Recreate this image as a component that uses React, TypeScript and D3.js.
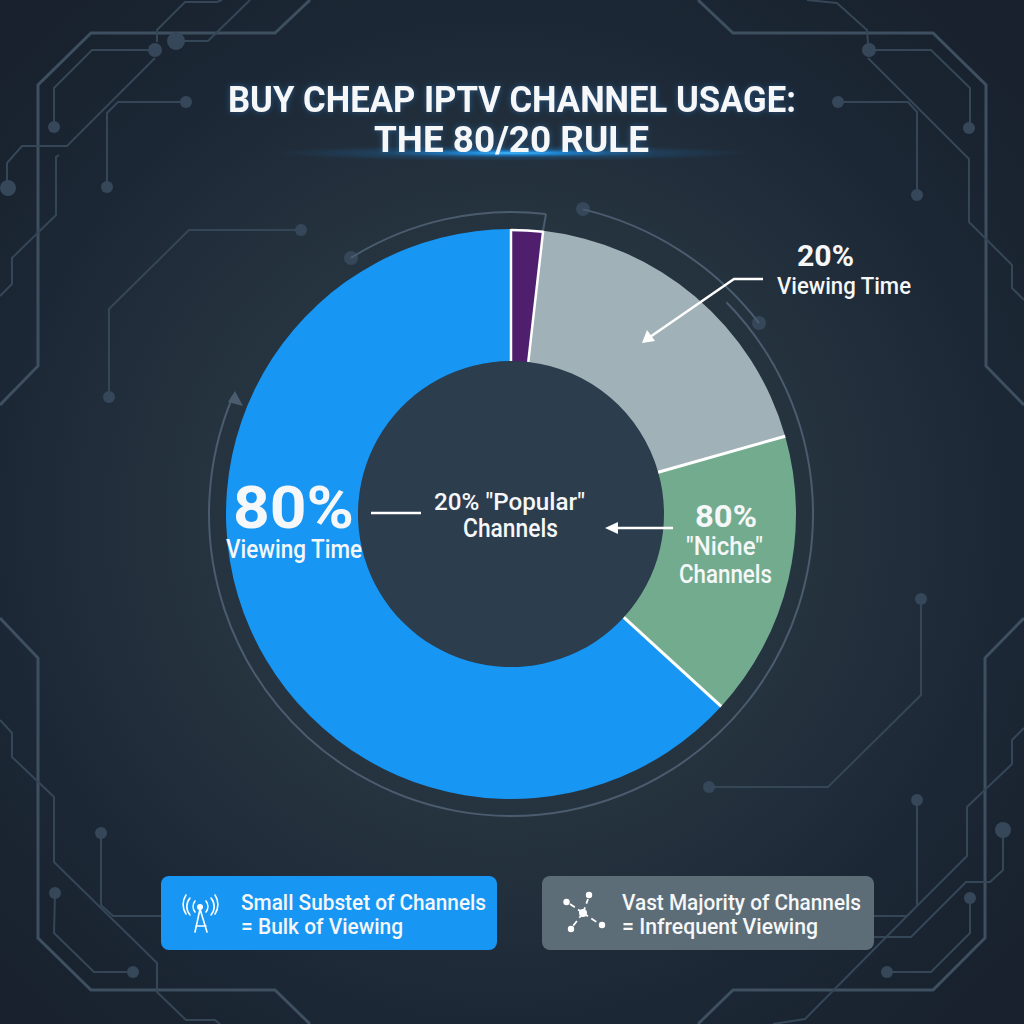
import React from "react";
import * as d3 from "d3";

// ---- chart data ----
const segmentNames = ["Popular sliver", "Viewing share", "Niche", "Bulk"];
const segmentValues = [1.8, 18.8, 16.2, 63.2];
const segmentColors = ["#4f1f6e", "#a0b1b7", "#73ab8f", "#1796f3"];
const titleLines = ["BUY CHEAP IPTV CHANNEL USAGE:", "THE 80/20 RULE"];

// ---- text: [string, x start, x end, baseline, size, weight] ----
type T = [string, number, number, number, number, number];
const labels: T[] = [
  ["20%", 797, 854, 266, 30, 700],
  ["Viewing Time", 777, 911, 294, 24, 500],
  ["80%", 233, 354, 528, 60, 700],
  ["Viewing Time", 226, 362, 558, 25, 500],
  ['20% "Popular"', 434, 585, 510, 24, 500],
  ["Channels", 463, 558, 537, 25, 500],
  ["80%", 695, 757, 527, 31, 700],
  ['"Niche"', 686, 763, 555, 25, 500],
  ["Channels", 679, 772, 583, 25, 500],
  ["Small Substet of Channels", 241, 486, 910, 22, 500],
  ["= Bulk of Viewing", 241, 403, 934, 22, 500],
  ["Vast Majority of Channels", 622, 861, 910, 22, 500],
  ["= Infrequent Viewing", 622, 818, 934, 22, 500],
];

// ---- decorative circuit traces ----
type P = [number, number];
const thickTraces: P[][] = [
  [[310, 0], [275, 33], [91, 33], [38, 85], [38, 366], [0, 405]],
  [[0, 618], [38, 658], [38, 938], [91, 990], [275, 990], [310, 1024]],
  [[698, 0], [733, 33], [933, 33], [986, 85], [986, 366], [1024, 405]],
  [[1024, 618], [985, 658], [985, 938], [933, 990], [733, 990], [698, 1024]],
];
const thinTraces: P[][] = [
  [[155, 50], [92, 50], [54, 88], [54, 127]],
  [[176, 41], [208, 41], [250, 0]],
  [[157, 42], [157, 30], [185, 2], [217, 2], [222, 0]],
  [[155, 58], [67, 146], [22, 146], [7, 163], [7, 188]],
  [[186, 102], [118, 102], [107, 113], [107, 187]],
  [[59, 155], [56, 157], [56, 215], [12, 258], [12, 284], [0, 296]],
  [[301, 230], [189, 230], [109, 309], [109, 397]],
  [[869, 50], [931, 50], [970, 88], [970, 127]],
  [[807, 0], [837, 3], [867, 30], [868, 43]],
  [[868, 58], [969, 159], [969, 222], [1012, 265], [1012, 288], [1024, 300]],
  [[838, 102], [908, 102], [917, 112], [917, 195]],
  [[921, 599], [921, 695], [828, 787], [709, 787]],
  [[917, 800], [917, 905]],
  [[874, 916], [907, 916], [967, 856], [967, 807], [1012, 764], [1012, 740], [1024, 728]],
  [[874, 937], [911, 937], [966, 882], [990, 882], [1003, 870], [1003, 830]],
  [[773, 1024], [805, 1019], [913, 910]],
  [[970, 898], [970, 933], [931, 972], [887, 972]],
  [[0, 720], [12, 733], [12, 757], [54, 797], [54, 862], [157, 963], [157, 992], [186, 1020], [215, 1020], [220, 1024]],
  [[101, 833], [101, 905], [113, 916], [161, 916]],
  [[55, 893], [54, 933], [94, 972], [133, 972]],
];
const traceNodes: [number, number, number][] = [
  [155, 50, 7], [54, 127, 6], [176, 41, 9], [8, 188, 8], [186, 102, 6], [107, 187, 6], [301, 230, 6], [109, 397, 6],
  [351, 258, 7], [869, 50, 7], [969, 128, 6], [838, 102, 6], [917, 195, 6], [583, 209, 7], [759, 323, 7],
  [921, 599, 6], [709, 787, 6], [917, 800, 6], [1003, 830, 8], [970, 898, 6], [887, 972, 6], [101, 833, 6], [55, 893, 6], [133, 972, 6],
];
// ring arcs: [radius, start degrees, end degrees]
const ringArcs: [number, number, number][] = [
  [302, -32, 6.6],
  [302, 45.5, 293],
  [313, 13.3, 52.4],
];

const CX = 511, CY = 514, R = 285, r0 = 153;
const FONT = "Roboto, 'Noto Sans', sans-serif";
const WHITE = "#f5f7f8";
const rad = (d: number) => (d * Math.PI) / 180;

const pathLine = d3.line<P>().x((d) => d[0]).y((d) => d[1]);
const pie = d3.pie<number>().sort(null).value((d) => d);
const arcGen = d3.arc<d3.PieArcDatum<number>>().innerRadius(r0).outerRadius(R);
const slices = pie(segmentValues);

function Txt({ t }: { t: T }) {
  const [s, x0, x1, y, size, w] = t;
  return (
    <text x={x0} y={y} fontFamily={FONT} fontSize={size} fontWeight={w} fill={WHITE}
      textLength={x1 - x0} lengthAdjust="spacingAndGlyphs">{s}</text>
  );
}

export default function App() {
  const sep = (a: number, w = 3) => {
    const p0 = d3.pointRadial(a, r0);
    const p1 = d3.pointRadial(a, R);
    return <line x1={p0[0]} y1={p0[1]} x2={p1[0]} y2={p1[1]} stroke="#fff" strokeWidth={w} />;
  };
  const ringArc = (d: [number, number, number]) =>
    d3.arc()({ innerRadius: d[0], outerRadius: d[0], startAngle: rad(d[1]), endAngle: rad(d[2]) }) as string;
  return (
    <svg width={1024} height={1024} viewBox="0 0 1024 1024" style={{ position: "absolute", left: 0, top: 0, display: "block" }}>
      <defs>
        <radialGradient id="bg" gradientUnits="userSpaceOnUse" cx={500} cy={520} r={680}>
          <stop offset="0" stopColor="#2c3d4e" />
          <stop offset="0.45" stopColor="#25333f" />
          <stop offset="0.75" stopColor="#1c2735" />
          <stop offset="1" stopColor="#18212d" />
        </radialGradient>
        <radialGradient id="under" cx="0.5" cy="0.5" r="0.5">
          <stop offset="0" stopColor="#4cc4ff" stopOpacity="1" />
          <stop offset="0.2" stopColor="#1f93ea" stopOpacity="0.85" />
          <stop offset="0.55" stopColor="#1c6cb0" stopOpacity="0.3" />
          <stop offset="1" stopColor="#1c6cb0" stopOpacity="0" />
        </radialGradient>
        <filter id="glow" x="-10%" y="-40%" width="120%" height="180%">
          <feGaussianBlur in="SourceAlpha" stdDeviation="3" result="b" />
          <feFlood floodColor="#2a8fe8" floodOpacity="0.45" />
          <feComposite in2="b" operator="in" result="g" />
          <feMerge>
            <feMergeNode in="g" />
            <feMergeNode in="SourceGraphic" />
          </feMerge>
        </filter>
      </defs>
      <rect width={1024} height={1024} fill="url(#bg)" />

      {/* circuit traces */}
      <g fill="none" strokeLinejoin="miter">
        {thickTraces.map((d, i) => <path key={i} d={pathLine(d) as string} stroke="#3e4f60" strokeWidth={3} />)}
        {thinTraces.map((d, i) => <path key={i} d={pathLine(d) as string} stroke="#354656" strokeWidth={2} />)}
      </g>
      {traceNodes.map((n, i) => <circle key={i} cx={n[0]} cy={n[1]} r={n[2]} fill="#36475a" />)}

      {/* title */}
      <ellipse cx={512} cy={153} rx={240} ry={8} fill="url(#under)" />
      <g filter="url(#glow)">
        <text x={228} y={112} fontFamily={FONT} fontSize={37} fontWeight={700} fill={WHITE} textLength={568} lengthAdjust="spacingAndGlyphs">{titleLines[0]}</text>
        <text x={374} y={152} fontFamily={FONT} fontSize={37} fontWeight={700} fill={WHITE} textLength={275} lengthAdjust="spacingAndGlyphs">{titleLines[1]}</text>
      </g>

      <g transform={`translate(${CX},${CY})`}>
        {/* ring */}
        <g fill="none" stroke="#4a5c6d" strokeWidth={2}>
          {ringArcs.map((d, i) => <path key={i} d={ringArc(d)} />)}
          <line x1={35} y1={-300} x2={32} y2={-283} />
        </g>
        <circle r={r0} fill="#2c3d4e" />
        {slices.map((s, i) => (
          <path key={segmentNames[i]} d={arcGen(s) as string} fill={segmentColors[i]} />
        ))}
        {/* white border on the sliver: both sides and the outer edge */}
        <path d={d3.arc()({ innerRadius: R - 1, outerRadius: R - 1, startAngle: slices[0].startAngle, endAngle: slices[0].endAngle }) as string}
          fill="none" stroke="#fff" strokeWidth={2.5} />
        {sep(slices[0].endAngle, 2.5)}
        {sep(slices[1].endAngle)}
        {sep(slices[2].endAngle)}
        {sep(0, 2.5)}
        <path d={`M-276,-119 L-283,-108 L-268,-104 Z`} fill="#4a5c6d" transform="translate(0,-4)" />
      </g>

      {/* legend boxes */}
      <rect x={161} y={876} width={336} height={74} rx={8} fill="#1796f3" />
      <rect x={542} y={876} width={332} height={74} rx={8} fill="#5d6d78" />

      {/* leaders */}
      <g stroke="#fff" fill="none" strokeWidth={2.5}>
        <line x1={371} y1={513} x2={421} y2={513} />
        <line x1={673} y1={528} x2={612} y2={528} />
        <polyline points="763,279 734,279 650,337" />
      </g>
      <path d="M605,528 L618,522 L618,534 Z" fill="#fff" />
      <path d="M642,343 L655,341 L647,330 Z" fill="#fff" />

      {labels.map((t, i) => <Txt key={i} t={t} />)}

      {/* antenna icon */}
      <g stroke="#fff" fill="none" strokeWidth={1.6} strokeLinecap="round">
        <circle cx={200} cy={907} r={2.2} fill="#fff" />
        <path d="M200,909 L195,932 M200,909 L207,932 M196,926 L206,926" />
        <path d="M195,901 A9,9 0 0 0 195,912 M206,901 A9,9 0 0 1 206,912" />
        <path d="M190,898 A13,13 0 0 0 190,915 M211,898 A13,13 0 0 1 211,915" />
        <path d="M186,895 A17,17 0 0 0 186,914 M215,895 A17,17 0 0 1 215,914" />
      </g>
      {/* network icon */}
      <g stroke="#fff" fill="none" strokeWidth={1.8}>
        <path d="M583,913 L570,904 M583,913 L588,899 M583,913 L598,923 M583,913 L573,926" strokeDasharray="6 4" />
      </g>
      <g fill="#fff">
        <circle cx={583} cy={913} r={4} />
        <circle cx={566.5} cy={902} r={3.2} />
        <circle cx={589} cy={895} r={3.2} />
        <circle cx={602} cy={925} r={3.2} />
        <circle cx={571} cy={929} r={3.2} />
      </g>
    </svg>
  );
}
